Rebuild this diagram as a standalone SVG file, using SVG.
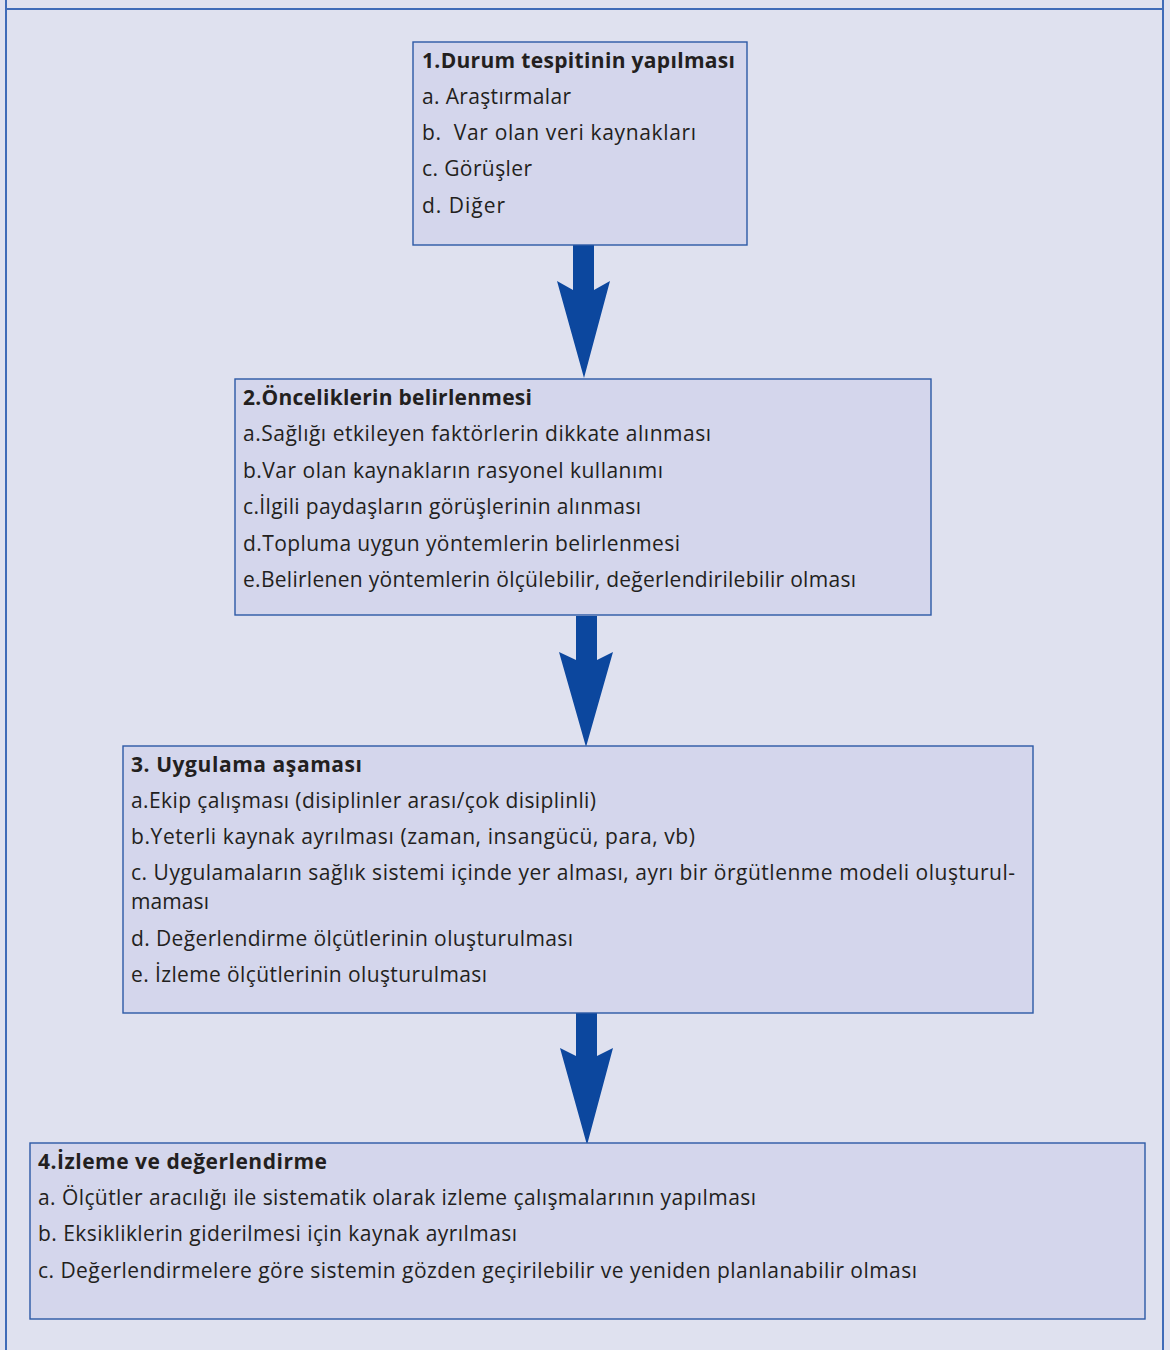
<svg xmlns="http://www.w3.org/2000/svg" width="1170" height="1350" viewBox="0 0 1170 1350">
<style>
  .bg { fill: #dfe1ef; }
  .frame { fill: none; stroke: #3f6bb8; stroke-width: 2; }
  .box { fill: #d4d6ec; stroke: #2c59a6; stroke-width: 1.4; }
  .t { font-family: "Open Sans", "Noto Sans", "DejaVu Sans", sans-serif; font-size: 21px; fill: #231f20; }
  .h { font-weight: bold; font-size: 21px; }
  .arrow { fill: #0c479e; }
</style>
<rect class="bg" x="0" y="0" width="1170" height="1350"/>
<line class="frame" x1="6" y1="9" x2="1163" y2="9"/>
<line class="frame" x1="6" y1="0" x2="6" y2="1350"/>
<line class="frame" x1="1163" y1="0" x2="1163" y2="1350"/>

<g id="connectors">
  <polygon class="arrow" points="573,245 594,245 594,290 610,281 584,378 557,281 573,290"/>
  <polygon class="arrow" points="576,616 597,616 597,660 613,652 586,747 559,652 576,660"/>
  <polygon class="arrow" points="576,1013 597,1013 597,1056 613,1048 587,1145 560,1048 576,1056"/>
</g>

<g id="node1">
  <rect class="box" x="413" y="42" width="334" height="203"/>
  <text class="t h" x="422" y="68" textLength="313">1.Durum tespitinin yapılması</text>
  <text class="t" x="422" y="104" textLength="149">a. Araştırmalar</text>
  <text class="t" x="422" y="140" xml:space="preserve" textLength="274">b.  Var olan veri kaynakları</text>
  <text class="t" x="422" y="176" textLength="110">c. Görüşler</text>
  <text class="t" x="422" y="213" textLength="83">d. Diğer</text>
</g>

<g id="node2">
  <rect class="box" x="235" y="379" width="696" height="236"/>
  <text class="t h" x="243" y="405" textLength="289">2.Önceliklerin belirlenmesi</text>
  <text class="t" x="243" y="441" textLength="468">a.Sağlığı etkileyen faktörlerin dikkate alınması</text>
  <text class="t" x="243" y="478" textLength="420">b.Var olan kaynakların rasyonel kullanımı</text>
  <text class="t" x="243" y="514" textLength="398">c.İlgili paydaşların görüşlerinin alınması</text>
  <text class="t" x="243" y="551" textLength="437">d.Topluma uygun yöntemlerin belirlenmesi</text>
  <text class="t" x="243" y="587" textLength="613">e.Belirlenen yöntemlerin ölçülebilir, değerlendirilebilir olması</text>
</g>

<g id="node3">
  <rect class="box" x="123" y="746" width="910" height="267"/>
  <text class="t h" x="131" y="772" textLength="231">3. Uygulama aşaması</text>
  <text class="t" x="131" y="808" textLength="465">a.Ekip çalışması (disiplinler arası/çok disiplinli)</text>
  <text class="t" x="131" y="844" textLength="564">b.Yeterli kaynak ayrılması (zaman, insangücü, para, vb)</text>
  <text class="t" x="131" y="880" textLength="884">c. Uygulamaların sağlık sistemi içinde yer alması, ayrı bir örgütlenme modeli oluşturul-</text>
  <text class="t" x="131" y="909" textLength="78">maması</text>
  <text class="t" x="131" y="946" textLength="442">d. Değerlendirme ölçütlerinin oluşturulması</text>
  <text class="t" x="131" y="982" textLength="356">e. İzleme ölçütlerinin oluşturulması</text>
</g>

<g id="node4">
  <rect class="box" x="30" y="1143" width="1115" height="176"/>
  <text class="t h" x="38" y="1169" textLength="289">4.İzleme ve değerlendirme</text>
  <text class="t" x="38" y="1205" textLength="718">a. Ölçütler aracılığı ile sistematik olarak izleme çalışmalarının yapılması</text>
  <text class="t" x="38" y="1241" textLength="479">b. Eksikliklerin giderilmesi için kaynak ayrılması</text>
  <text class="t" x="38" y="1278" textLength="879">c. Değerlendirmelere göre sistemin gözden geçirilebilir ve yeniden planlanabilir olması</text>
</g>
</svg>
